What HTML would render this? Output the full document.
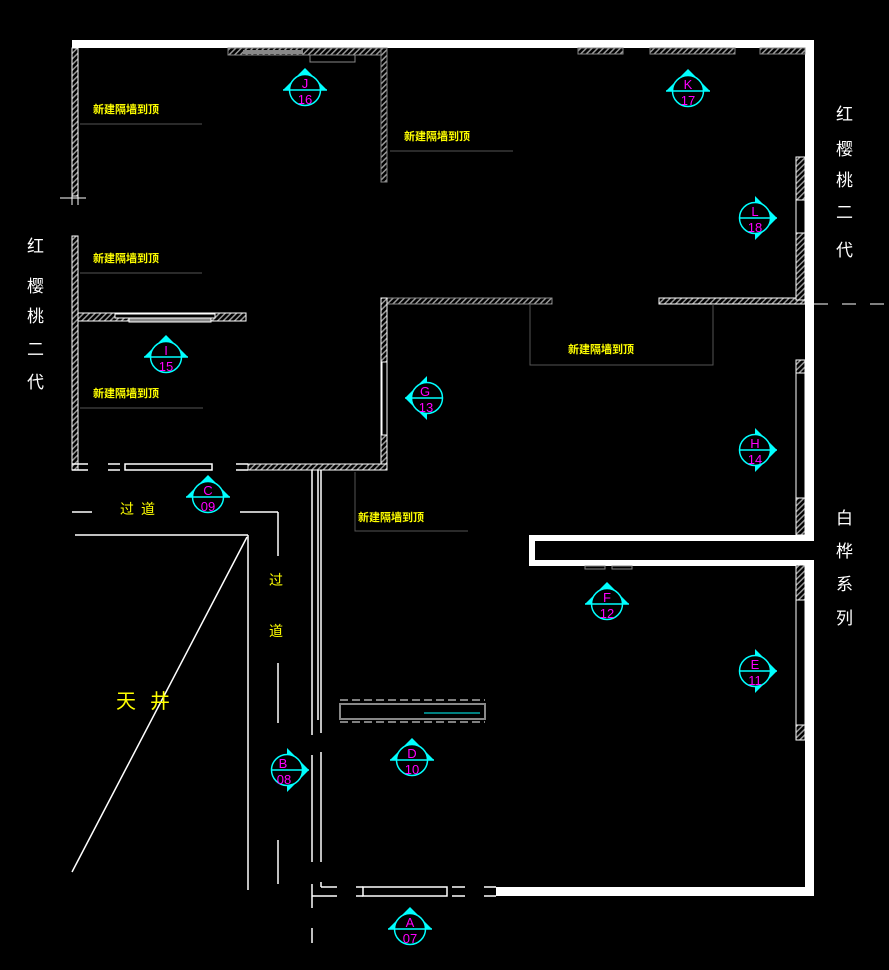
<!DOCTYPE html>
<html><head><meta charset="utf-8"><style>
html,body{margin:0;padding:0;background:#000;}
svg{display:block}
.y{fill:#ff0;font-family:"Liberation Sans","Noto Sans CJK SC",sans-serif;font-size:11px;font-weight:bold}
.w{fill:#fff;font-family:"Liberation Sans","Noto Sans CJK SC",sans-serif;font-size:17px}
.m{fill:#f0f;font-family:"Liberation Sans",sans-serif;font-size:13px;text-anchor:middle}
</style></head><body>
<svg width="889" height="970" viewBox="0 0 889 970" xmlns="http://www.w3.org/2000/svg">
<defs>
<pattern id="h" width="4" height="4" patternUnits="userSpaceOnUse" patternTransform="rotate(45)">
<rect width="4" height="4" fill="#000"/><rect width="1.5" height="4" fill="#999"/></pattern>
<g id="up"><polygon points="-22,0 0,-22 22,0" fill="#0ff"/><circle r="15.5" fill="#000" stroke="#0ff" stroke-width="1.5"/><line x1="-22" y1="0" x2="22" y2="0" stroke="#0ff" stroke-width="1.5"/></g>
<g id="rt"><polygon points="0,-22 22,0 0,22" fill="#0ff"/><circle r="15.5" fill="#000" stroke="#0ff" stroke-width="1.5"/><line x1="-15" y1="0" x2="22" y2="0" stroke="#0ff" stroke-width="1.5"/></g>
<g id="lt"><polygon points="0,-22 -22,0 0,22" fill="#0ff"/><circle r="15.5" fill="#000" stroke="#0ff" stroke-width="1.5"/><line x1="-22" y1="0" x2="15" y2="0" stroke="#0ff" stroke-width="1.5"/></g>
</defs>
<rect width="889" height="970" fill="#000"/>

<rect x="72" y="40" width="742" height="8" fill="#fff"/>
<rect x="805" y="40" width="9" height="500" fill="#fff"/>
<rect x="529" y="535" width="285" height="6" fill="#fff"/>
<rect x="529" y="535" width="6" height="30" fill="#fff"/>
<rect x="529" y="560" width="285" height="6" fill="#fff"/>
<rect x="805" y="560" width="9" height="336" fill="#fff"/>
<rect x="496" y="887" width="318" height="9" fill="#fff"/>

<rect x="228" y="48" width="156" height="7" fill="url(#h)" stroke="#888"/>
<rect x="243" y="50" width="60" height="4" fill="#888"/>
<rect x="310" y="55" width="45" height="7" fill="none" stroke="#888"/>
<rect x="578" y="48" width="45" height="6" fill="url(#h)" stroke="#888"/>
<rect x="650" y="48" width="85" height="6" fill="url(#h)" stroke="#888"/>
<rect x="760" y="48" width="45" height="6" fill="url(#h)" stroke="#888"/>

<rect x="72" y="48" width="6" height="148" fill="url(#h)" stroke="#fff"/>
<rect x="72" y="236" width="6" height="234" fill="url(#h)" stroke="#fff"/>
<line x1="60" y1="198" x2="86" y2="198" stroke="#fff"/>
<line x1="72" y1="190" x2="72" y2="205" stroke="#fff"/><line x1="78" y1="190" x2="78" y2="205" stroke="#fff"/>

<rect x="381" y="48" width="6" height="134" fill="url(#h)" stroke="#888"/>
<rect x="78" y="313" width="168" height="8" fill="url(#h)" stroke="#fff"/>
<rect x="115" y="314" width="100" height="4" fill="#000" stroke="#fff"/>
<rect x="129" y="318" width="82" height="4" fill="#888" stroke="#fff"/>
<rect x="381" y="298" width="171" height="6" fill="url(#h)" stroke="#888"/>
<rect x="381" y="298" width="6" height="172" fill="url(#h)" stroke="#fff"/>
<rect x="382" y="362" width="5" height="73" fill="#000" stroke="#fff"/>
<rect x="659" y="298" width="146" height="6" fill="url(#h)" stroke="#fff"/>
<rect x="796" y="157" width="9" height="143" fill="url(#h)" stroke="#fff"/>
<rect x="796" y="200" width="9" height="33" fill="#000" stroke="#fff"/>
<rect x="796" y="360" width="9" height="175" fill="url(#h)" stroke="#fff"/>
<rect x="796" y="373" width="9" height="125" fill="#000" stroke="#fff"/>
<rect x="796" y="565" width="9" height="175" fill="url(#h)" stroke="#fff"/>
<rect x="796" y="600" width="9" height="125" fill="#000" stroke="#fff"/>
<line x1="814" y1="304" x2="889" y2="304" stroke="#fff" stroke-dasharray="14,14"/>

<g stroke="#fff" stroke-width="1.5">
<line x1="72" y1="464" x2="88" y2="464"/><line x1="72" y1="470" x2="88" y2="470"/>
<line x1="108" y1="464" x2="120" y2="464"/><line x1="108" y1="470" x2="120" y2="470"/>
<rect x="125" y="464" width="87" height="6" fill="#000"/>
<line x1="236" y1="464" x2="248" y2="464"/><line x1="236" y1="470" x2="248" y2="470"/>
</g>
<rect x="248" y="464" width="139" height="6" fill="url(#h)" stroke="#fff"/>

<g stroke="#fff" stroke-width="1.5" fill="none">
<line x1="312" y1="470" x2="312" y2="735"/><line x1="318" y1="470" x2="318" y2="720"/><line x1="321" y1="470" x2="321" y2="733"/>
<line x1="312" y1="755" x2="312" y2="862"/><line x1="321" y1="752" x2="321" y2="862"/>
<line x1="312" y1="884" x2="312" y2="908"/><line x1="312" y1="928" x2="312" y2="943"/>
<line x1="321" y1="882" x2="321" y2="887"/>
<line x1="312" y1="896" x2="337" y2="896"/><line x1="321" y1="887" x2="337" y2="887"/>
<line x1="356" y1="887" x2="363" y2="887"/><line x1="356" y1="896" x2="363" y2="896"/>
<rect x="363" y="887" width="84" height="9" fill="#000"/>
<line x1="452" y1="887" x2="465" y2="887"/><line x1="452" y1="896" x2="465" y2="896"/>
<line x1="484" y1="887" x2="496" y2="887"/><line x1="484" y1="896" x2="496" y2="896"/>
<line x1="72" y1="512" x2="92" y2="512"/>
<line x1="240" y1="512" x2="278" y2="512"/><line x1="278" y1="512" x2="278" y2="556"/>
<line x1="278" y1="663" x2="278" y2="723"/><line x1="278" y1="840" x2="278" y2="884"/>
<line x1="75" y1="535" x2="248" y2="535"/><line x1="248" y1="535" x2="248" y2="890"/>
<line x1="247" y1="537" x2="72" y2="872"/>
</g>
<rect x="340" y="704" width="145" height="15" fill="none" stroke="#888" stroke-width="2"/>
<line x1="340" y1="700" x2="485" y2="700" stroke="#fff" stroke-dasharray="8,4"/>
<line x1="340" y1="722" x2="485" y2="722" stroke="#fff" stroke-dasharray="8,4"/>
<line x1="424" y1="713" x2="480" y2="713" stroke="#0ff"/>
<rect x="585" y="566" width="20" height="3" fill="none" stroke="#888"/>
<rect x="612" y="566" width="20" height="3" fill="none" stroke="#888"/>

<g stroke="#555" fill="none">
<line x1="80" y1="124" x2="202" y2="124"/>
<line x1="390" y1="151" x2="513" y2="151"/>
<line x1="80" y1="273" x2="202" y2="273"/>
<line x1="80" y1="408" x2="203" y2="408"/>
<polyline points="530,304 530,365 713,365 713,304"/>
<polyline points="355,472 355,531 468,531"/>
</g>

<text class="y" x="93" y="113">新建隔墙到顶</text>
<text class="y" x="404" y="140">新建隔墙到顶</text>
<text class="y" x="93" y="262">新建隔墙到顶</text>
<text class="y" x="93" y="397">新建隔墙到顶</text>
<text class="y" x="568" y="353">新建隔墙到顶</text>
<text class="y" x="358" y="521">新建隔墙到顶</text>
<text class="y" x="120" y="514" style="font-size:14px;font-weight:normal">过</text>
<text class="y" x="141" y="514" style="font-size:14px;font-weight:normal">道</text>
<text class="y" x="269" y="585" style="font-size:14px;font-weight:normal">过</text>
<text class="y" x="269" y="636" style="font-size:14px;font-weight:normal">道</text>
<text class="y" x="116" y="708" style="font-size:20px;font-weight:normal">天</text>
<text class="y" x="150" y="708" style="font-size:20px;font-weight:normal">井</text>

<g class="w">
<text x="27" y="252">红</text><text x="27" y="292">樱</text><text x="27" y="322">桃</text><text x="27" y="355">二</text><text x="27" y="388">代</text>
<text x="836" y="120">红</text><text x="836" y="155">樱</text><text x="836" y="186">桃</text><text x="836" y="218">二</text><text x="836" y="256">代</text>
<text x="836" y="524">白</text><text x="836" y="557">桦</text><text x="836" y="590">系</text><text x="836" y="624">列</text>
</g>

<g><use href="#up" x="305" y="90"/><text class="m" x="305" y="88">J</text><text class="m" x="305" y="104">16</text></g>
<g><use href="#up" x="688" y="91"/><text class="m" x="688" y="89">K</text><text class="m" x="688" y="105">17</text></g>
<g><use href="#up" x="166" y="357"/><text class="m" x="166" y="355">I</text><text class="m" x="166" y="371">15</text></g>
<g><use href="#up" x="208" y="497"/><text class="m" x="208" y="495">C</text><text class="m" x="208" y="511">09</text></g>
<g><use href="#up" x="607" y="604"/><text class="m" x="607" y="602">F</text><text class="m" x="607" y="618">12</text></g>
<g><use href="#up" x="412" y="760"/><text class="m" x="412" y="758">D</text><text class="m" x="412" y="774">10</text></g>
<g><use href="#up" x="410" y="929"/><text class="m" x="410" y="927">A</text><text class="m" x="410" y="943">07</text></g>
<g><use href="#rt" x="755" y="218"/><text class="m" x="755" y="216">L</text><text class="m" x="755" y="232">18</text></g>
<g><use href="#rt" x="755" y="450"/><text class="m" x="755" y="448">H</text><text class="m" x="755" y="464">14</text></g>
<g><use href="#rt" x="755" y="671"/><text class="m" x="755" y="669">E</text><text class="m" x="755" y="685">11</text></g>
<g><use href="#rt" x="287" y="770"/><text class="m" x="283" y="768">B</text><text class="m" x="284" y="784">08</text></g>
<g><use href="#lt" x="427" y="398"/><text class="m" x="425" y="396">G</text><text class="m" x="426" y="412">13</text></g>
</svg>
</body></html>
